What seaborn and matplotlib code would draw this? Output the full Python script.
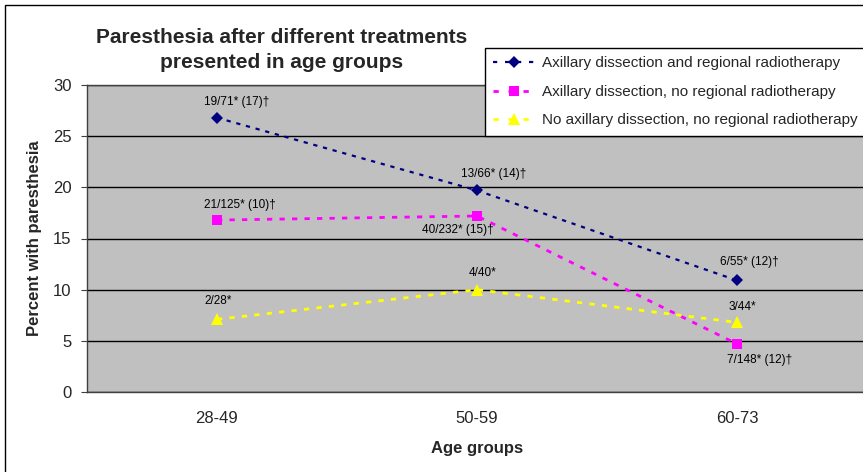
import matplotlib
matplotlib.use("Agg")
import matplotlib.pyplot as plt
import seaborn as sns
import pandas as pd
from matplotlib.lines import Line2D
from matplotlib.patches import Rectangle

# ---- data ----
age_groups = ["28-49", "50-59", "60-73"]
series_names = [
    "Axillary dissection and regional radiotherapy",
    "Axillary dissection, no regional radiotherapy",
    "No axillary dissection, no regional radiotherapy",
]
ax_rt = [26.8, 19.7, 10.9]
ax_no_rt = [16.8, 17.2, 4.7]
no_ax_no_rt = [7.1, 10.0, 6.8]
labels_ax_rt = ["19/71* (17)†", "13/66* (14)†", "6/55* (12)†"]
labels_ax_no_rt = ["21/125* (10)†", "40/232* (15)†", "7/148* (12)†"]
labels_no_ax_no_rt = ["2/28*", "4/40*", "3/44*"]
yticks = [0, 5, 10, 15, 20, 25, 30]

values = [ax_rt, ax_no_rt, no_ax_no_rt]
point_labels = [labels_ax_rt, labels_ax_no_rt, labels_no_ax_no_rt]

rows = []
for name, vals in zip(series_names, values):
    for i, (g, v) in enumerate(zip(age_groups, vals)):
        rows.append({"series": name, "pos": i, "group": g, "value": v})
df = pd.DataFrame(rows)

# ---- styles ----
colors = {series_names[0]: "#000080", series_names[1]: "#FF00FF", series_names[2]: "#FFFF00"}
markers = {series_names[0]: "D", series_names[1]: "s", series_names[2]: "^"}
msizes = {series_names[0]: 6.5, series_names[1]: 7.5, series_names[2]: 8.5}
lws = {series_names[0]: 1.6, series_names[1]: 2.0, series_names[2]: 2.0}
dash = (0, (1.9, 2.6))
# label offsets (points) for each series / point
offsets = [
    [(14, 11), (12, 11.5), (9, 13)],
    [(16.5, 11), (-14, -10), (16.5, -11.5)],
    [(1, 13), (4, 12), (4, 11)],
]

sns.set_style("white")
plt.rcParams["font.family"] = ["Liberation Sans", "DejaVu Sans"]

fig = plt.figure(figsize=(8.63, 4.72), dpi=100)
fig.patch.set_facecolor("white")
ax = fig.add_axes([87 / 863, 1 - 392 / 472, 780 / 863, 307 / 472])
ax.set_facecolor("#C0C0C0")

for name in series_names:
    sub = df[df["series"] == name]
    sns.lineplot(data=sub, x="pos", y="value", ax=ax, color=colors[name],
                 linewidth=lws[name], linestyle=dash, marker=markers[name],
                 markersize=msizes[name], markeredgewidth=0, legend=False,
                 zorder=3, estimator=None, sort=False)

for name, vals, labs, offs in zip(series_names, values, point_labels, offsets):
    for i, (v, lab, off) in enumerate(zip(vals, labs, offs)):
        ax.annotate(lab, (i, v), xytext=off, textcoords="offset points",
                    ha="center", va="center", fontsize=8.5, color="black", zorder=4)

ax.set_xlim(-0.5, 2.5)
ax.set_ylim(0, 30)
ax.set_yticks(yticks)
ax.set_yticklabels([str(t) for t in yticks])
ax.set_xticks(range(len(age_groups)))
ax.set_xticklabels(age_groups)
ax.set_xticks([-0.5, 0.5, 1.5, 2.5], minor=True)
ax.tick_params(axis="x", which="major", length=0, pad=13.5, labelsize=12)
ax.tick_params(axis="x", which="minor", length=4, width=0.8, color="#404040", direction="out")
ax.tick_params(axis="y", length=4, width=0.8, color="#404040", direction="out", pad=7, labelsize=12, left=True)
ax.grid(axis="y", color="black", linewidth=1.0)
ax.grid(axis="x", visible=False)
ax.set_axisbelow(True)
ax.spines["right"].set_visible(False)
for s in ["left", "bottom", "top"]:
    ax.spines[s].set_color("#404040")
    ax.spines[s].set_linewidth(1.0)

ax.set_xlabel("Age groups", fontsize=12, fontweight="bold", labelpad=11)
ax.set_ylabel("Percent with paresthesia", fontsize=12, fontweight="bold", labelpad=8)

fig.text(282 / 863, 1 - 50 / 472, "Paresthesia after different treatments\npresented in age groups",
         ha="center", va="center", fontsize=15, fontweight="bold", linespacing=1.4)

handles = [Line2D([0], [0], color=colors[n], linewidth=lws[n], linestyle=(0, (1.9, 3.5)),
                  marker=markers[n], markersize=msizes[n], markeredgewidth=0) for n in series_names]
leg = fig.legend(handles, series_names, loc="upper left",
                 bbox_to_anchor=(485 / 863, 1 - 48 / 472), fontsize=11,
                 frameon=True, fancybox=False, edgecolor="black", framealpha=1,
                 handlelength=2.7, handletextpad=0.45, labelspacing=0.95,
                 borderpad=0.55, borderaxespad=0, numpoints=1)
leg.get_frame().set_linewidth(1.0)

fig.add_artist(Rectangle((5 / 863, -0.05), 1.2, 1.05 - 5 / 472, transform=fig.transFigure,
                         fill=False, edgecolor="black", linewidth=1.0, clip_on=False))

fig.savefig("out.png", dpi=100)
